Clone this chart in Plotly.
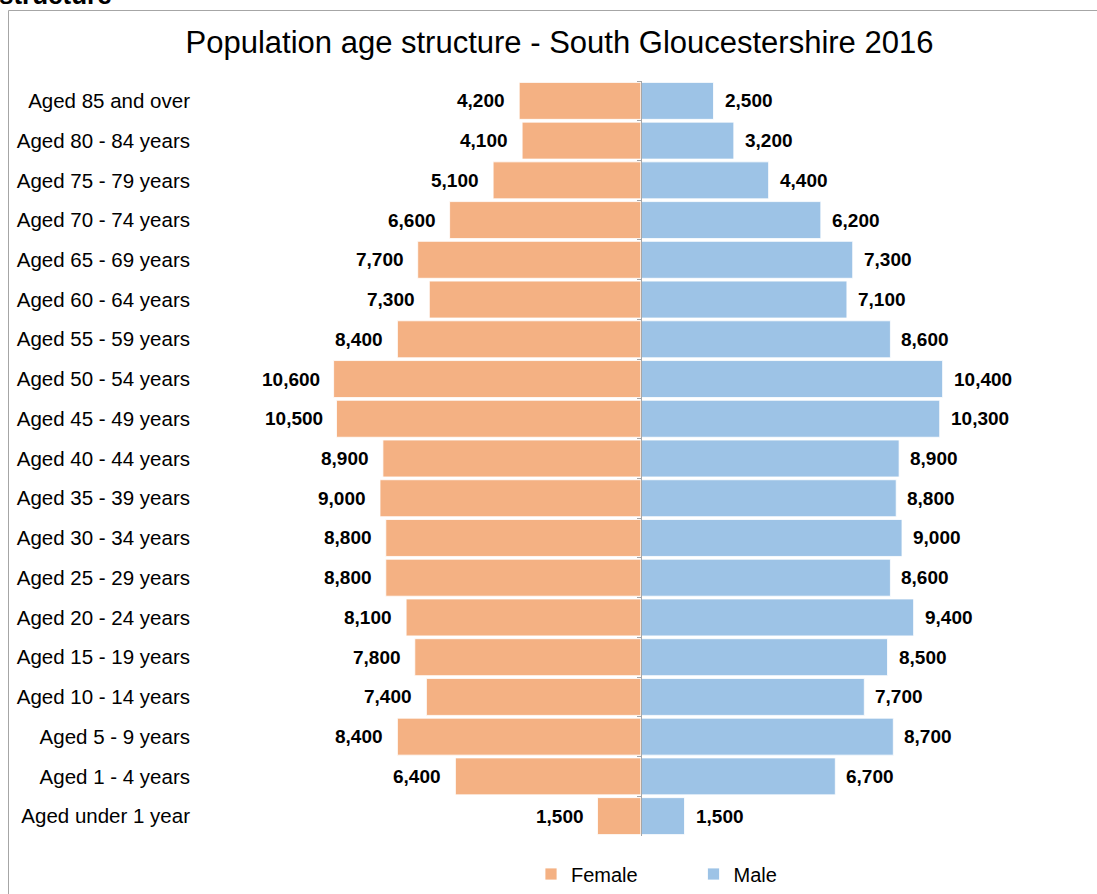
import plotly.graph_objects as go

age_groups = [
    "Aged 85 and over", "Aged 80 - 84 years", "Aged 75 - 79 years", "Aged 70 - 74 years",
    "Aged 65 - 69 years", "Aged 60 - 64 years", "Aged 55 - 59 years", "Aged 50 - 54 years",
    "Aged 45 - 49 years", "Aged 40 - 44 years", "Aged 35 - 39 years", "Aged 30 - 34 years",
    "Aged 25 - 29 years", "Aged 20 - 24 years", "Aged 15 - 19 years", "Aged 10 - 14 years",
    "Aged 5 - 9 years", "Aged 1 - 4 years", "Aged under 1 year",
]
female = [4200, 4100, 5100, 6600, 7700, 7300, 8400, 10600, 10500, 8900,
          9000, 8800, 8800, 8100, 7800, 7400, 8400, 6400, 1500]
male = [2500, 3200, 4400, 6200, 7300, 7100, 8600, 10400, 10300, 8900,
        8800, 9000, 8600, 9400, 8500, 7700, 8700, 6700, 1500]

FEMALE_COLOR = "#F4B183"
MALE_COLOR = "#9DC3E6"
FONT = "Liberation Sans, Arial, sans-serif"

W, H = 1097, 894
PL, PR, PT, PB = 196, 1085, 81, 836          # plot area in page pixels
L, R, T, B = PL, W - PR, PT, H - PB
pw, ph = W - L - R, H - T - B


def px_x(p):
    return (p - L) / pw


def px_y(p):
    return 1 - (p - T) / ph


fig = go.Figure()
fig.add_trace(go.Bar(
    y=age_groups, x=[-v for v in female], orientation="h", name="Female",
    marker=dict(color=FEMALE_COLOR, line=dict(color="white", width=0.8)),
    yaxis="y", hoverinfo="skip",
))
fig.add_trace(go.Bar(
    y=age_groups, x=male, orientation="h", name="Male",
    marker=dict(color=MALE_COLOR, line=dict(color="white", width=0.8)),
    yaxis="y2", hoverinfo="skip",
))

annotations = []
for g, v in zip(age_groups, female):
    annotations.append(dict(
        x=-v, y=g, xref="x", yref="y", text=f"{v:,}", showarrow=False,
        xanchor="right", yanchor="middle", xshift=-12,
        font=dict(family=FONT, size=19, color="#000000", weight="bold"),
    ))
for g, v in zip(age_groups, male):
    annotations.append(dict(
        x=v, y=g, xref="x", yref="y", text=f"{v:,}", showarrow=False,
        xanchor="left", yanchor="middle", xshift=9,
        font=dict(family=FONT, size=19, color="#000000", weight="bold"),
    ))
# cut-off heading at the very top of the page (as in the reference)
annotations.append(dict(
    x=px_x(-3), y=px_y(12), xref="paper", yref="paper", text="<b>structure</b>",
    showarrow=False, xanchor="left", yanchor="bottom",
    font=dict(family=FONT, size=26, color="#000000"),
))

fig.update_layout(
    width=W, height=H,
    margin=dict(l=L, r=R, t=T, b=B, pad=0),
    paper_bgcolor="white", plot_bgcolor="white",
    barmode="overlay", bargap=0.07,
    font=dict(family=FONT, color="#000000"),
    title=dict(
        text="Population age structure - South Gloucestershire 2016",
        x=559.5 / W, xref="container", xanchor="center",
        y=1 - 42 / H, yref="container", yanchor="middle",
        font=dict(family=FONT, size=31, color="#000000"),
    ),
    xaxis=dict(range=[-15345, 15310], showgrid=False, zeroline=False,
               showticklabels=False, showline=False, ticks=""),
    yaxis=dict(categoryorder="array", categoryarray=age_groups, autorange="reversed",
               showgrid=False, zeroline=False, showline=False, ticks="",
               tickfont=dict(family=FONT, size=20.5, color="#000000"), ticklabelstandoff=5),
    yaxis2=dict(overlaying="y", matches="y", anchor="free", position=0.5, side="left",
                showgrid=False, zeroline=False, showline=True, linecolor="#A6A6A6",
                linewidth=1, ticks="outside", ticklen=4, tickcolor="#A6A6A6",
                tickson="boundaries", showticklabels=False,
                categoryorder="array", categoryarray=age_groups),
    legend=dict(
        orientation="h", xref="container", yref="container",
        x=531 / W, xanchor="left", y=1 - 874 / H, yanchor="middle",
        font=dict(family=FONT, size=20, color="#000000"),
        itemwidth=30, entrywidth=117.5, entrywidthmode="pixels",
        bgcolor="rgba(0,0,0,0)",
    ),
    showlegend=True,
    annotations=annotations,
    shapes=[dict(
        type="rect", xref="paper", yref="paper",
        x0=px_x(8.5), x1=px_x(1110), y0=px_y(910), y1=px_y(10.5),
        line=dict(color="#A6A6A6", width=1), fillcolor="rgba(0,0,0,0)", layer="below",
    )],
)

fig.write_html(
    "out.html",
    config={"displayModeBar": False},
    post_script="document.body.style.margin = '0px';",
)
